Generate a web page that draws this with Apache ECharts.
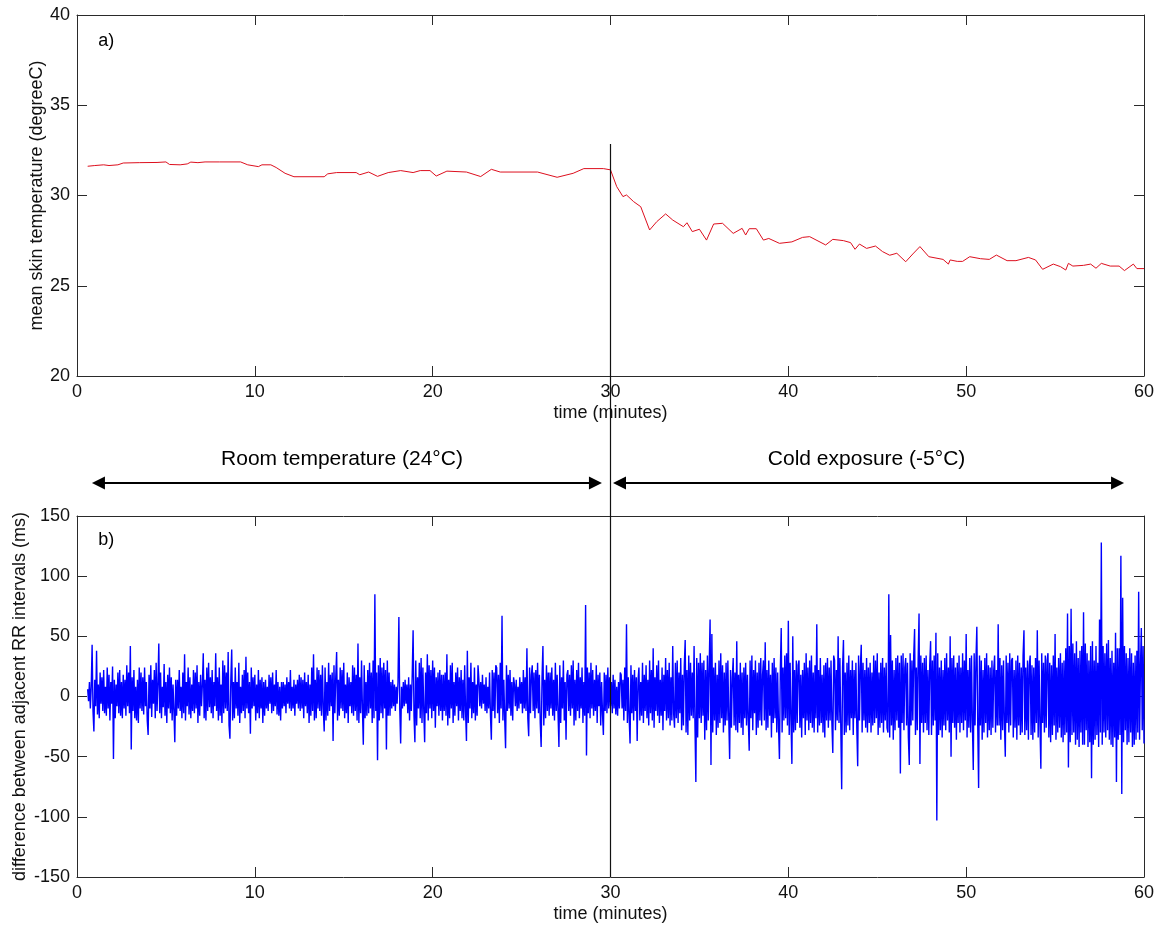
<!DOCTYPE html>
<html>
<head>
<meta charset="utf-8">
<script src="https://cdn.jsdelivr.net/npm/echarts@6/dist/echarts.min.js"></script>
<style>
html,body{margin:0;padding:0;background:#fff;}
#chart{width:1155px;height:926px;}
</style>
</head>
<body>
<div id="chart"></div>
<script>
// ---- Panel a) mean skin temperature ----
const tempTime = [0.6,1.0,1.5,1.8,2.3,2.6,3.5,4.5,5.0,5.2,5.8,6.2,6.4,6.8,7.2,8.0,9.2,9.6,10.2,10.4,10.9,11.2,11.7,12.2,13.9,14.1,14.6,15.7,15.9,16.4,16.9,17.5,18.2,
  18.9,19.3,19.85,20.2,20.8,21.9,22.7,23.3,23.8,25.9,26.0,27.0,27.9,28.5,29.6,30.0,30.35,30.7,30.9,31.3,31.7,32.2,32.6,33.1,33.5,34.1,34.3,34.6,35.0,35.4,35.8,36.3,36.9,37.4,37.6,37.8,38.2,38.6,38.9,39.5,40.2,
  40.8,41.2,42.1,42.5,43.1,43.5,43.75,44.0,44.4,44.9,45.3,45.7,46.1,46.6,47.0,47.4,47.9,48.7,49.0,49.1,49.5,49.8,50.2,50.8,51.3,51.7,52.3,52.8,53.5,53.9,54.3,54.9,55.3,55.6,55.75,56.0,56.6,57.0,57.3,57.6,58.1,58.6,58.9,59.4,59.6,60.0];
const tempValue = [31.62,31.66,31.70,31.66,31.70,31.80,31.82,31.83,31.86,31.72,31.70,31.75,31.85,31.82,31.86,31.86,31.86,31.70,31.60,31.70,31.70,31.55,31.23,31.04,31.04,31.20,31.27,31.27,31.15,31.30,31.06,31.27,31.38,
  31.27,31.38,31.38,31.08,31.35,31.30,31.05,31.45,31.30,31.30,31.38,31.01,31.23,31.49,31.49,31.42,30.49,29.94,30.03,29.66,29.38,28.09,28.55,28.98,28.64,28.27,28.49,28.00,28.13,27.53,28.42,28.46,27.90,28.18,27.81,28.16,28.16,27.53,27.62,27.35,27.43,
  27.68,27.72,27.26,27.57,27.50,27.39,27.02,27.31,27.07,27.20,26.89,26.69,26.80,26.33,26.76,27.17,26.61,26.46,26.20,26.43,26.35,26.35,26.61,26.50,26.46,26.70,26.39,26.39,26.57,26.43,25.91,26.20,26.06,25.87,26.24,26.09,26.13,26.20,25.97,26.24,26.09,26.09,25.84,26.20,25.95,25.95];

// ---- Panel b) difference between adjacent RR intervals ----
const rrStart = 0.6;      // minutes
const rrPerMinute = 20;   // samples per minute in this reading
const rrValues = [
6,-4,12,-10,8,43,-12,-29,14,-8,38,-15,10,-18,20,-6,16,-12,22,-14,
8,-16,24,-10,18,-20,12,-6,25,-52,14,-18,10,-8,20,-14,22,-16,12,-18,
18,-10,14,-16,26,-8,20,-14,42,-44,16,-12,22,-18,8,-20,14,-22,24,-10,
20,-12,16,-15,24,-8,12,-20,-32,18,-10,26,-17,14,-6,22,-18,28,-12,10,
44,-14,20,-18,8,-9,27,-16,12,-22,18,-10,24,-14,16,-20,10,-12,-38,14,
-16,14,-10,22,-12,8,-18,20,-14,35,-20,12,-8,24,-15,16,-18,10,-12,22,
-14,20,-10,26,-22,12,-16,18,-8,10,36,-18,14,-20,24,-12,28,-9,16,-14,
22,-18,12,-8,36,-12,16,-20,24,-16,10,-22,30,-14,26,-10,20,-12,37,-24,
-35,14,39,-20,12,-18,24,-10,12,-16,28,-22,8,-14,18,-12,22,-18,33,-10,
20,-14,12,-31,24,-10,16,-8,18,-20,10,-14,22,-18,14,-10,16,-22,12,-16,
14,-10,8,-12,18,-6,16,-14,20,-12,10,-8,22,-15,12,-16,8,-20,12,-10,
12,-8,10,-14,16,-6,12,-10,22,-12,8,-10,14,-16,10,-6,14,-10,18,-12,
16,-10,14,-18,20,-8,12,-14,18,-22,10,-16,24,-12,35,-20,14,-18,24,-10,
22,-12,18,-16,26,-10,-29,24,-20,12,-16,28,-12,18,-8,20,-37,26,-14,16,
37,-20,14,-16,24,-10,22,-12,28,-18,10,-14,20,-22,16,-8,12,-14,26,-16,
24,-12,18,-20,44,-22,16,-14,30,-10,-40,26,-18,12,-16,22,-14,28,-10,20,
-22,30,-18,85,-12,20,-53,26,-20,32,-14,24,-18,28,-10,22,-44,30,-16,20,
-16,12,-10,14,-8,10,-12,8,-6,12,66,-10,-39,8,-10,12,-8,14,-6,10,
-14,16,-20,10,-12,18,55,-16,-38,30,-24,16,-10,28,-18,32,-22,24,-12,-38,
20,-14,35,-20,26,-10,22,-18,30,-12,24,-26,16,-8,20,-16,22,-12,18,-20,
18,-12,20,-16,35,-24,14,-18,26,-10,28,-22,12,-16,20,-8,24,-20,16,-12,
22,-18,14,-20,26,-12,-37,38,-22,16,-10,28,-18,12,-14,24,-20,10,-16,26,
14,-8,12,-10,18,-6,10,-12,16,-14,8,-10,20,-16,-36,22,-12,20,-18,26,
24,-14,18,-22,28,-10,67,-20,14,-18,-43,26,-12,18,-10,22,-16,12,-20,16,
10,-8,14,-12,8,-10,16,-6,12,-14,22,-10,16,-12,40,-18,-33,24,-14,18,
26,-12,20,-18,22,-10,28,-14,18,-22,-42,16,42,-24,14,-18,26,-12,20,-16,
20,-10,24,-16,14,-20,28,-12,18,-14,-42,26,-22,16,-10,30,-20,12,-36,18,
22,-12,18,-16,26,-10,30,-24,14,-20,22,-12,28,-18,16,-10,24,-22,12,-16,
76,-49,24,-14,20,-18,28,-10,22,-16,14,-12,26,-22,18,-8,20,-24,12,-14,
-32,20,-12,18,-14,24,-10,16,-8,12,-14,18,-10,14,-15,8,-16,12,-10,20,
18,-10,14,-20,24,-12,60,-22,16,-18,-39,26,-14,18,-20,22,-12,16,-37,14,
24,-20,12,-16,28,-22,18,-12,26,-18,14,-24,30,-14,22,-20,40,-26,16,-12,
26,-16,30,-22,14,-16,24,-28,18,-12,32,-20,22,-18,28,-24,16,-20,42,-14,
-26,28,-18,30,-22,20,-14,32,-28,18,-24,26,47,-30,22,-32,34,-20,28,-16,
20,-18,42,-24,-71,32,-34,28,-18,36,-22,28,-16,30,-36,22,-28,34,-20,26,
64,-57,52,-30,24,-20,28,-32,18,-26,30,-22,36,-18,26,-30,20,-24,28,-20,
30,-18,-52,22,-26,16,32,-24,20,-28,46,-30,18,-22,28,-26,20,-32,24,-18,
28,-24,18,-20,-45,30,-18,34,-28,22,-14,30,-32,20,-26,28,-20,32,-24,18,
30,-20,45,-28,22,-26,30,-16,18,-34,28,-22,32,-18,24,-30,20,-26,-52,22,
57,-30,24,-20,34,-18,36,-24,63,-32,28,-20,-56,50,-30,22,-28,30,-22,26,
30,-26,18,-34,22,-18,28,-32,36,-20,24,-28,30,-22,34,-26,20,-30,26,-18,
60,-30,22,-24,32,-22,18,-30,26,-34,28,-20,32,-26,24,-20,30,-22,-47,34,
30,-28,22,-20,50,-22,32,-26,-77,24,47,-32,20,-30,28,-24,34,-28,22,-18,
30,-32,22,-18,28,-26,-58,34,-20,24,43,-30,28,-20,22,-26,32,-30,24,-22,
28,-30,20,-24,34,-22,30,-18,36,-32,20,-26,28,-22,32,-30,24,-20,28,-26,
-30,85,-34,51,-24,30,-36,22,-28,32,-20,34,-26,28,-64,34,-22,36,-28,24,
32,-24,28,-34,-57,36,-24,30,-20,34,56,-32,24,-28,30,69,-56,34,-22,28,
-30,32,-22,34,-28,22,-32,26,46,-32,30,-24,34,-20,53,-103,36,-32,24,-28,
30,-34,22,-24,32,-28,36,-20,24,-30,50,-50,32,-22,34,-26,24,-36,28,-22,
34,-30,24,-22,36,-28,30,-20,52,-34,22,-26,32,-30,34,-22,-61,36,-24,30,
58,-24,-76,34,-24,30,-36,22,-30,32,-22,36,-34,26,-28,24,-32,30,-26,22,
34,-30,22,-24,60,-24,32,-36,26,-28,30,-22,-50,34,-22,28,-30,36,-24,30,
32,-34,22,-26,30,-36,34,-24,28,-32,24,-30,34,55,-32,24,-28,30,-36,26,
34,-32,26,-36,24,-30,32,-22,55,-34,30,-24,-60,36,-22,28,-30,34,-26,30,
36,-34,28,-38,26,-32,34,-24,52,-36,24,-30,32,-26,36,-34,28,-38,30,-32,
40,-30,69,-59,42,-38,73,-32,44,-30,36,-40,46,-36,32,-42,38,-30,42,-40,
70,-40,44,-28,36,-42,30,-38,42,-68,46,-40,30,-36,42,-32,28,-42,64,-30,
128,-40,42,-30,36,-34,44,-28,47,-36,32,-40,38,-42,28,-34,53,-71,40,-36,
40,-32,117,-81,82,-38,42,-28,36,-40,32,-38,40,-30,36,-42,28,-40,34,-36,
38,-30,87,-36,24,57,-28,42,-39
];

// axis definitions
const timeTicks = {min: 0, max: 60, interval: 10};
const tempTicks = {min: 20, max: 40, interval: 5};
const rrTicks = {min: -150, max: 150, interval: 50};

// annotations (in minutes)
const phaseSplit = 30;
const lineTopValue = 32.85;
const roomArrow = [0.84, 29.52];
const coldArrow = [30.14, 58.88];
const roomLabel = {t: 14.9, text: 'Room temperature (24°C)'};
const coldLabel = {t: 44.4, text: 'Cold exposure (-5°C)'};

const tempData = tempTime.map((t, i) => [t, tempValue[i]]);
const rrData = rrValues.map((v, i) => [rrStart + i / rrPerMinute, v]);

const FONT = 'Liberation Sans, Arial, sans-serif';
const AX = '#2a2a2a';

function xAxisDef(grid, pos, labels) {
  return {
    type: 'value', gridIndex: grid, position: pos,
    min: timeTicks.min, max: timeTicks.max, interval: timeTicks.interval,
    axisLine: {show: true, onZero: false, lineStyle: {color: AX, width: 1}},
    axisTick: {show: true, inside: true, length: 10, lineStyle: {color: AX}},
    axisLabel: {show: labels, fontFamily: FONT, fontSize: 18, color: '#111', margin: 7},
    splitLine: {show: false},
    name: labels ? 'time (minutes)' : '',
    nameLocation: 'middle', nameGap: 28, nameMoveOverlap: false,
    nameTextStyle: {fontFamily: FONT, fontSize: 18, color: '#111'}
  };
}
function yAxisDef(grid, pos, ticks, labels, name, gap) {
  return {
    type: 'value', gridIndex: grid, position: pos,
    min: ticks.min, max: ticks.max, interval: ticks.interval,
    axisLine: {show: true, onZero: false, lineStyle: {color: AX, width: 1}},
    axisTick: {show: true, inside: true, length: 10, lineStyle: {color: AX}},
    axisLabel: {show: labels, fontFamily: FONT, fontSize: 18, color: '#111', margin: 7},
    splitLine: {show: false},
    name: name || '', nameLocation: 'middle', nameGap: gap || 0, nameRotate: 90, nameMoveOverlap: false,
    nameTextStyle: {fontFamily: FONT, fontSize: 18, color: '#111'}
  };
}

const chart = echarts.init(document.getElementById('chart'), null, {renderer: 'canvas'});
chart.setOption({
  animation: false,
  backgroundColor: '#fff',
  grid: [
    {left: 77, top: 15, width: 1067, height: 361, containLabel: false, outerBoundsMode: 'none'},
    {left: 77, top: 516, width: 1067, height: 361, containLabel: false, outerBoundsMode: 'none'}
  ],
  xAxis: [
    xAxisDef(0, 'bottom', true), xAxisDef(0, 'top', false),
    xAxisDef(1, 'bottom', true), xAxisDef(1, 'top', false)
  ],
  yAxis: [
    yAxisDef(0, 'left', tempTicks, true, 'mean skin temperature (degreeC)', 31),
    yAxisDef(0, 'right', tempTicks, false),
    yAxisDef(1, 'left', rrTicks, true, 'difference between adjacent RR intervals (ms)', 48),
    yAxisDef(1, 'right', rrTicks, false)
  ],
  series: [
    {type: 'line', xAxisIndex: 0, yAxisIndex: 0, data: tempData, showSymbol: false, symbol: 'none',
     lineStyle: {color: '#dd0f1e', width: 1}, silent: true},
    {type: 'line', xAxisIndex: 2, yAxisIndex: 2, data: rrData, showSymbol: false, symbol: 'none',
     sampling: null, lineStyle: {color: '#0000ff', width: 1.4}, silent: true}
  ]
});

// annotations positioned through the axes
const px = t => chart.convertToPixel({xAxisIndex: 0}, t);
const xs = px(phaseSplit);
const yTop = chart.convertToPixel({yAxisIndex: 0}, lineTopValue);
const yBot = chart.convertToPixel({yAxisIndex: 2}, rrTicks.min);
const gridBTop = chart.convertToPixel({yAxisIndex: 2}, rrTicks.max);
const gridATop = chart.convertToPixel({yAxisIndex: 0}, tempTicks.max);
const arrowY = gridBTop - 33;
const labelY = gridBTop - 57;

function arrow(x1, x2, y) {
  const hl = 13, hw = 6.5;
  return [
    {type: 'line', shape: {x1: x1 + hl - 2, y1: y, x2: x2 - hl + 2, y2: y}, style: {stroke: '#000', lineWidth: 2.2}},
    {type: 'polygon', shape: {points: [[x1, y], [x1 + hl, y - hw], [x1 + hl, y + hw]]}, style: {fill: '#000'}},
    {type: 'polygon', shape: {points: [[x2, y], [x2 - hl, y - hw], [x2 - hl, y + hw]]}, style: {fill: '#000'}}
  ];
}

const g = [
  {type: 'line', shape: {x1: xs, y1: yTop, x2: xs, y2: yBot}, style: {stroke: '#111', lineWidth: 1.2}, z: 10},
  ...arrow(px(roomArrow[0]), px(roomArrow[1]), arrowY),
  ...arrow(px(coldArrow[0]), px(coldArrow[1]), arrowY),
  {type: 'text', x: px(roomLabel.t), y: labelY, style: {text: roomLabel.text, fontFamily: FONT, fontSize: 21, fill: '#000', align: 'center', verticalAlign: 'middle'}},
  {type: 'text', x: px(coldLabel.t), y: labelY, style: {text: coldLabel.text, fontFamily: FONT, fontSize: 21, fill: '#000', align: 'center', verticalAlign: 'middle'}},
  {type: 'text', x: px(1.2), y: gridATop + 26, style: {text: 'a)', fontFamily: FONT, fontSize: 18, fill: '#000', align: 'left', verticalAlign: 'middle'}},
  {type: 'text', x: px(1.2), y: gridBTop + 24, style: {text: 'b)', fontFamily: FONT, fontSize: 18, fill: '#000', align: 'left', verticalAlign: 'middle'}}
];
chart.setOption({graphic: g});
</script>
</body>
</html>
